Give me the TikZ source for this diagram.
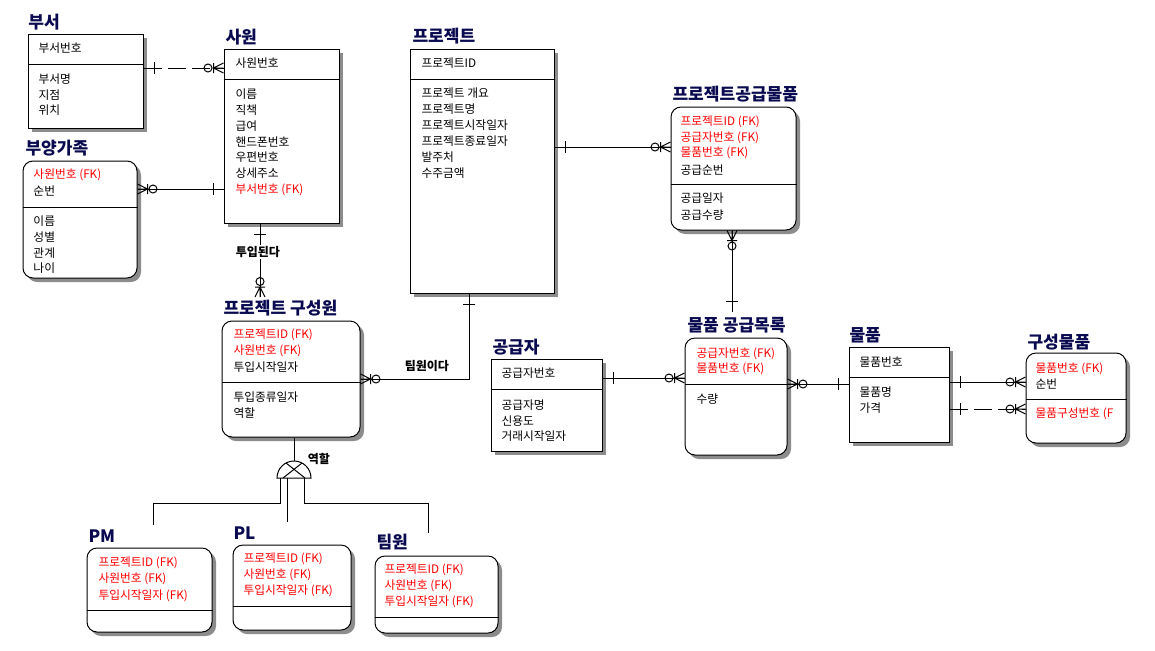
\documentclass[tikz,border=0pt]{standalone}
\usepackage{fontspec}
\setmainfont{Noto Sans CJK KR}
\usetikzlibrary{fit,shadows,calc}
\definecolor{titlec}{RGB}{10,10,80}
\definecolor{fkc}{RGB}{255,0,0}
\tikzset{
  zm/.pic={\draw (0,-5) -- (10,0) -- (0,5) (0,0) -- (10,0) (10,-5) -- (10,5) (15.5,0) circle[radius=3pt];},
  ob/.pic={\draw (10.5,-6) -- (10.5,6);}
}
\begin{document}
\begin{tikzpicture}[x=0.75pt,y=-0.75pt,line width=0.75pt,
  ent/.style={draw,fill=white,inner sep=0pt,drop shadow={shadow xshift=3pt,shadow yshift=-3pt,fill=black!45,opacity=1}},
  rent/.style={ent,rounded corners=7.5pt},
  ttl/.style={anchor=west,inner sep=0pt,font=\fontsize{12.8}{14}\selectfont\bfseries,text=titlec},
  attr/.style={anchor=west,inner sep=0pt,font=\fontsize{8.8}{10}\selectfont},
  fk/.style={attr,text=fkc},
  rlab/.style={anchor=west,inner sep=1pt,font=\fontsize{9}{10}\selectfont\bfseries,fill=white},
  dline/.style={dash pattern=on 13.5pt off 4.5pt}]
\fill[white] (0,0) rectangle (1155,650);
\useasboundingbox (0,0) rectangle (1155,650);

% 부서
\node[ttl] (t-busu) at (28,22) {부서};
\node[ent,fit={(28,34)(143,128)}] (busu) {};
\draw (busu.west |- 0,64) -- (busu.east |- 0,64);
\node[attr] (busu-k1) at (38,48) {부서번호};
\node[attr] (busu-a1) at (38,79) {부서명};
\node[attr] (busu-a2) at (38,95) {지점};
\node[attr] (busu-a3) at (38,110) {위치};

% 사원
\node[ttl] (t-sawon) at (225,37) {사원};
\node[ent,fit={(224,49)(339,223)}] (sawon) {};
\draw (sawon.west |- 0,79) -- (sawon.east |- 0,79);
\node[attr] (sawon-k1) at (235,63) {사원번호};
\node[attr] (sawon-a1) at (235,94) {이름};
\node[attr] (sawon-a2) at (235,110) {직책};
\node[attr] (sawon-a3) at (235,126) {급여};
\node[attr] (sawon-a4) at (235,142) {핸드폰번호};
\node[attr] (sawon-a5) at (235,157) {우편번호};
\node[attr] (sawon-a6) at (235,173) {상세주소};
\node[fk] (sawon-a7) at (235,190) {부서번호 (FK)};

% 부양가족
\node[ttl] (t-buyang) at (25,148) {부양가족};
\node[rent,fit={(23,161)(137,278)}] (buyang) {};
\draw (buyang.west |- 0,207) -- (buyang.east |- 0,207);
\node[fk] (buyang-k1) at (33,175) {사원번호 (FK)};
\node[attr] (buyang-k2) at (33,191) {순번};
\node[attr] (buyang-a1) at (33,221) {이름};
\node[attr] (buyang-a2) at (33,237) {성별};
\node[attr] (buyang-a3) at (33,253) {관계};
\node[attr] (buyang-a4) at (33,268) {나이};

% 프로젝트
\node[ttl] (t-proj) at (412,36) {프로젝트};
\node[ent,fit={(410,49)(554,293)}] (proj) {};
\draw (proj.west |- 0,79) -- (proj.east |- 0,79);
\node[attr] (proj-k1) at (421,63) {프로젝트ID};
\node[attr] (proj-a1) at (421,93) {프로젝트 개요};
\node[attr] (proj-a2) at (421,109) {프로젝트명};
\node[attr] (proj-a3) at (421,125) {프로젝트시작일자};
\node[attr] (proj-a4) at (421,141) {프로젝트종료일자};
\node[attr] (proj-a5) at (421,157) {발주처};
\node[attr] (proj-a6) at (421,173) {수주금액};

% 프로젝트공급물품
\node[ttl] (t-pgm) at (672,94) {프로젝트공급물품};
\node[rent,fit={(671,107)(796,230)}] (pgm) {};
\draw (pgm.west |- 0,184) -- (pgm.east |- 0,184);
\node[fk] (pgm-k1) at (680,122) {프로젝트ID (FK)};
\node[fk] (pgm-k2) at (680,138) {공급자번호 (FK)};
\node[fk] (pgm-k3) at (680,153) {물품번호 (FK)};
\node[attr] (pgm-k4) at (680,170) {공급순번};
\node[attr] (pgm-a1) at (680,198) {공급일자};
\node[attr] (pgm-a2) at (680,215) {공급수량};

% 프로젝트 구성원
\node[ttl] (t-pcm) at (223,308) {프로젝트 구성원};
\node[rent,fit={(222,321)(360,437)}] (pcm) {};
\draw (pcm.west |- 0,382) -- (pcm.east |- 0,382);
\node[fk] (pcm-k1) at (233,335) {프로젝트ID (FK)};
\node[fk] (pcm-k2) at (233,351) {사원번호 (FK)};
\node[attr] (pcm-k3) at (233,367) {투입시작일자};
\node[attr] (pcm-a1) at (233,397) {투입종류일자};
\node[attr] (pcm-a2) at (233,413) {역할};

% PM
\node[ttl] (t-pm) at (88,536) {PM};
\node[rent,fit={(87,548)(212,632)}] (pm) {};
\draw (pm.west |- 0,610) -- (pm.east |- 0,610);
\node[fk] (pm-k1) at (98,563) {프로젝트ID (FK)};
\node[fk] (pm-k2) at (98,579) {사원번호 (FK)};
\node[fk] (pm-k3) at (98,596) {투입시작일자 (FK)};

% PL
\node[ttl] (t-pl) at (233,533) {PL};
\node[rent,fit={(233,545)(351,630)}] (pl) {};
\draw (pl.west |- 0,606) -- (pl.east |- 0,606);
\node[fk] (pl-k1) at (243,559) {프로젝트ID (FK)};
\node[fk] (pl-k2) at (243,575) {사원번호 (FK)};
\node[fk] (pl-k3) at (243,591) {투입시작일자 (FK)};

% 팀원
\node[ttl] (t-tm) at (376,542) {팀원};
\node[rent,fit={(375,556)(498,633)}] (tm) {};
\draw (tm.west |- 0,617) -- (tm.east |- 0,617);
\node[fk] (tm-k1) at (384,570) {프로젝트ID (FK)};
\node[fk] (tm-k2) at (384,586) {사원번호 (FK)};
\node[fk] (tm-k3) at (384,602) {투입시작일자 (FK)};

% 공급자
\node[ttl] (t-sup) at (492,347) {공급자};
\node[ent,fit={(491,359)(602,451)}] (sup) {};
\draw (sup.west |- 0,389) -- (sup.east |- 0,389);
\node[attr] (sup-k1) at (501,373) {공급자번호};
\node[attr] (sup-a1) at (501,405) {공급자명};
\node[attr] (sup-a2) at (501,421) {신용도};
\node[attr] (sup-a3) at (501,436) {거래시작일자};

% 물품 공급목록
\node[ttl] (t-mgl) at (687,325) {물품 공급목록};
\node[rent,fit={(685,338)(787,455)}] (mgl) {};
\draw (mgl.west |- 0,384) -- (mgl.east |- 0,384);
\node[fk] (mgl-k1) at (696,354) {공급자번호 (FK)};
\node[fk] (mgl-k2) at (696,369) {물품번호 (FK)};
\node[attr] (mgl-a1) at (696,399) {수량};

% 물품
\node[ttl] (t-mp) at (849,335) {물품};
\node[ent,fit={(849,347)(949,442)}] (mp) {};
\draw (mp.west |- 0,377) -- (mp.east |- 0,377);
\node[attr] (mp-k1) at (859,362) {물품번호};
\node[attr] (mp-a1) at (859,392) {물품명};
\node[attr] (mp-a2) at (859,408) {가격};

% 구성물품
\node[ttl] (t-gmp) at (1027,342) {구성물품};
\node[rent,fit={(1026,353)(1126,443)}] (gmp) {};
\draw (gmp.west |- 0,399) -- (gmp.east |- 0,399);
\node[fk] (gmp-k1) at (1035,369) {물품번호 (FK)};
\node[attr] (gmp-k2) at (1035,384) {순번};
\node[fk] (gmp-a1) at (1035,414) {물품구성번호 (F};

% ---- relationships ----
% 부서 - 사원
\draw[dline] (busu.east |- 0,68) -- (sawon.west |- 0,68);
\pic at (busu.east |- 0,68) {ob};
\pic[rotate=180] at (sawon.west |- 0,68) {zm};
% 부양가족 - 사원
\draw (buyang.east |- 0,189) -- (sawon.west |- 0,189);
\pic at (buyang.east |- 0,189) {zm};
\pic[rotate=180] at (sawon.west |- 0,189) {ob};
% 사원 - 프로젝트 구성원
\coordinate (c3) at (260,297);
\draw (sawon.south -| c3) -- (c3);
\pic[rotate=-90] at (sawon.south -| c3) {ob};
\pic[rotate=90] at (c3) {zm};
\node[rlab] (l-tuip) at (234,252) {투입된다};
% 프로젝트 - 프로젝트공급물품
\draw (proj.east |- 0,147) -- (pgm.west |- 0,147);
\pic at (proj.east |- 0,147) {ob};
\pic[rotate=180] at (pgm.west |- 0,147) {zm};
% 프로젝트공급물품 - 물품 공급목록
\coordinate (c5) at (732,312);
\draw (pgm.south -| c5) -- (c5);
\pic[rotate=-90] at (pgm.south -| c5) {zm};
\pic[rotate=90] at (c5) {ob};
% 프로젝트 구성원 - 프로젝트
\draw (pcm.east |- 0,379) -| (proj.south -| 469,0);
\pic at (pcm.east |- 0,379) {zm};
\pic[rotate=-90] at (proj.south -| 469,0) {ob};
\node[rlab,fill=none] (l-team) at (403,366) {팀원이다};
% 공급자 - 물품 공급목록
\draw (sup.east |- 0,378) -- (mgl.west |- 0,378);
\pic at (sup.east |- 0,378) {ob};
\pic[rotate=180] at (mgl.west |- 0,378) {zm};
% 물품 공급목록 - 물품
\draw (mgl.east |- 0,384) -- (mp.west |- 0,384);
\pic at (mgl.east |- 0,384) {zm};
\pic[rotate=180] at (mp.west |- 0,384) {ob};
% 물품 - 구성물품
\draw (mp.east |- 0,382) -- (gmp.west |- 0,382);
\pic at (mp.east |- 0,382) {ob};
\pic[rotate=180] at (gmp.west |- 0,382) {zm};
\draw[dline] (mp.east |- 0,409) -- (gmp.west |- 0,409);
\pic at (mp.east |- 0,409) {ob};
\pic[rotate=180] at (gmp.west |- 0,409) {zm};

% ---- subtype (역할) ----
\coordinate (cat) at (294,478);
\draw (pcm.south -| cat) -- ($(cat)+(0,-17)$);
\draw ($(cat)+(-17,0)$) arc[start angle=180,end angle=360,radius=17] -- cycle;
\draw ($(cat)+(-8,-15)$) -- ($(cat)+(11,0)$) ($(cat)+(8,-15)$) -- ($(cat)+(-11,0)$);
\node[rlab,fill=none] (l-role) at (306,459) {역할};
\coordinate (pmtop) at (153,525);
\coordinate (pltop) at (287,522);
\coordinate (tmtop) at (428,533);
\draw ($(cat)+(-14,0)$) -- ++(0,25) -| (pmtop);
\draw ($(cat)+(-7,0)$) -- (pltop);
\draw ($(cat)+(10,0)$) -- ++(0,25) -| (tmtop);
\end{tikzpicture}
\end{document}
